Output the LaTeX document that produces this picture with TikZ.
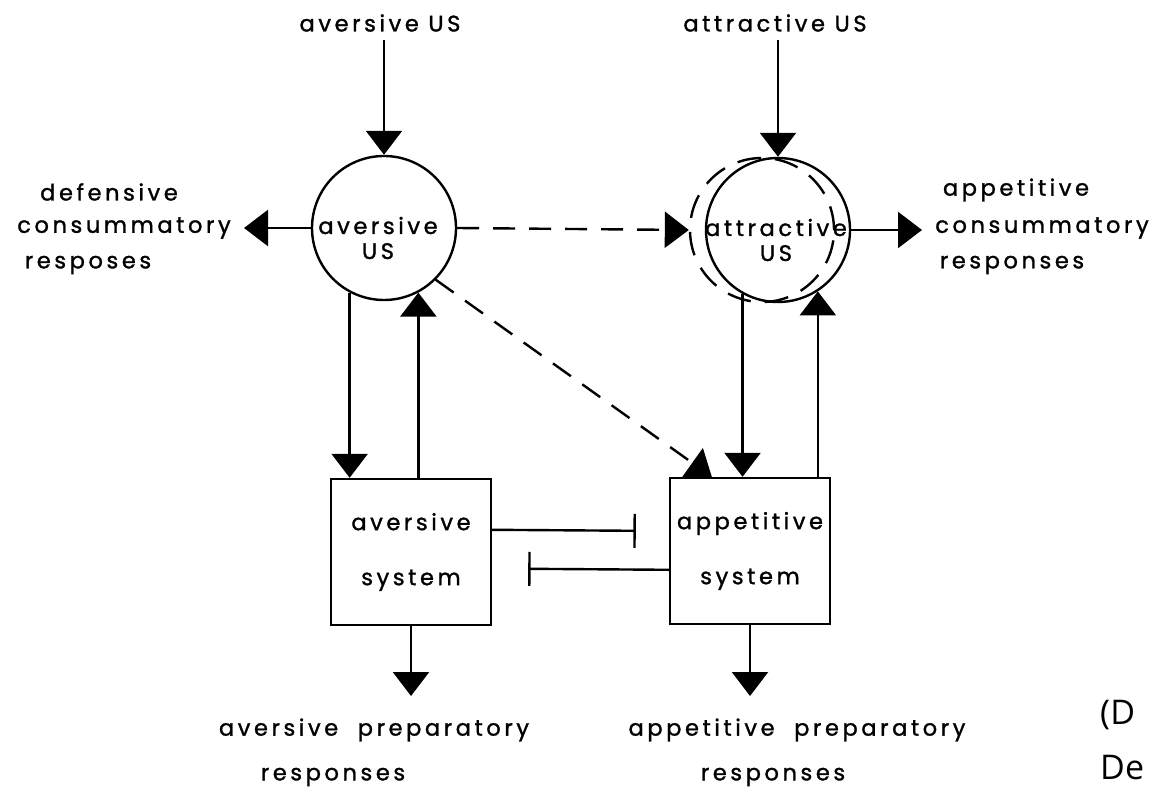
\documentclass[tikz,border=0pt]{standalone}
\usepackage{fontspec}
\setmainfont{Poppins}[LetterSpace=16,FakeBold=1.3]
\newfontfamily\tailfont{Open Sans}
\usetikzlibrary{arrows.meta}
\begin{document}
\begin{tikzpicture}[x=1pt,y=-1pt,
  every node/.style={font=\fontsize{22.5}{25}\selectfont},
  lab/.style={inner sep=0pt},
  arr/.style={line width=2.4pt,-{Triangle[width=36pt,length=24pt]}},
  darr/.style={arr,dash pattern=on 22pt off 14pt},
  inh/.style={line width=2.4pt,-{Bar[width=34pt]}},
  usc/.style={circle,draw,line width=2.4pt,minimum size=144pt,inner sep=0pt},
  sysbox/.style={draw,line width=2.4pt,minimum width=160pt,minimum height=146pt,align=center,font=\fontsize{22.5}{55}\selectfont}]
\useasboundingbox (0,0) rectangle (1150,791);

% circles
\node[usc,dash pattern=on 24pt off 14pt] (attd) at (762,230) {};
\node[usc,label={[lab,align=center,xshift=-6pt,yshift=-10pt]center:aversive\\US}] (av) at (384,228) {};
\node[usc,label={[lab,align=center,xshift=-2pt,yshift=-10pt]center:attractive\\US}] (att) at (778,230) {};

% boxes
\node[sysbox] (avb) at (411,552) {aversive\\system};
\node[sysbox] (apb) at (750,551) {appetitive\\system};

% top labels
\node[lab] (avin) at (380,23) {aversive US};
\node[lab] (atin) at (775,23) {attractive US};

% side labels
\node[lab] (def1) at (109,192) {defensive};
\node[lab] (def2) at (124,228) {consummatory};
\node[lab] (def3) at (88,265) {resposes};
\node[lab] (app1) at (1016,190) {appetitive};
\node[lab] (app2) at (1042,228) {consummatory};
\node[lab] (app3) at (1012,265) {responses};

% bottom labels
\node[lab] (avp) at (374,730) {aversive\hspace{10pt} preparatory};
\node[lab] (avr) at (333,777) {responses};
\node[lab] (ppp) at (797,730) {appetitive\hspace{10pt} preparatory};
\node[lab] (ppr) at (773,777) {responses};

% free ends
\coordinate (defend) at (244,228);
\coordinate (append) at (922,230);
\coordinate (avout) at (411,696);
\coordinate (apout) at (750,696);

% connectors
\draw[arr,shorten <=8pt] (av.north |- avin.south) -- (av.north);
\draw[arr,shorten <=8pt] (att.north |- atin.south) -- (att.north);
\draw[arr] (av.west) -- (defend);
\draw[arr] (att.east) -- (append);
\draw[darr] (av.east) -- (attd.west);
\draw[darr] (av.-45) -- ([xshift=43pt]apb.north west);
\draw[arr] (av.-118) -- (av.-118 |- avb.north);
\draw[arr] (avb.north -| av.-62) -- (av.-62);
\draw[arr] (att.-119) -- (att.-119 |- apb.north);
\draw[arr] (apb.north -| att.-57) -- (att.-57);
\draw[inh] ([yshift=-52pt]avb.north east) -- ([xshift=-33pt,yshift=-54pt]apb.north west);
\draw[inh] ([yshift=-93pt]apb.north west) -- ([xshift=36pt,yshift=-91pt]avb.north east);
\draw[arr] (avb.south) -- (avout);
\draw[arr] (apb.south) -- (apout);

% caption fragment at right edge
\node[lab,anchor=west,font=\tailfont\fontsize{34}{40}\selectfont] (capa) at (1100,715) {(D};
\node[lab,anchor=west,font=\tailfont\fontsize{34}{40}\selectfont] (capb) at (1100,768) {De};
\end{tikzpicture}
\end{document}
